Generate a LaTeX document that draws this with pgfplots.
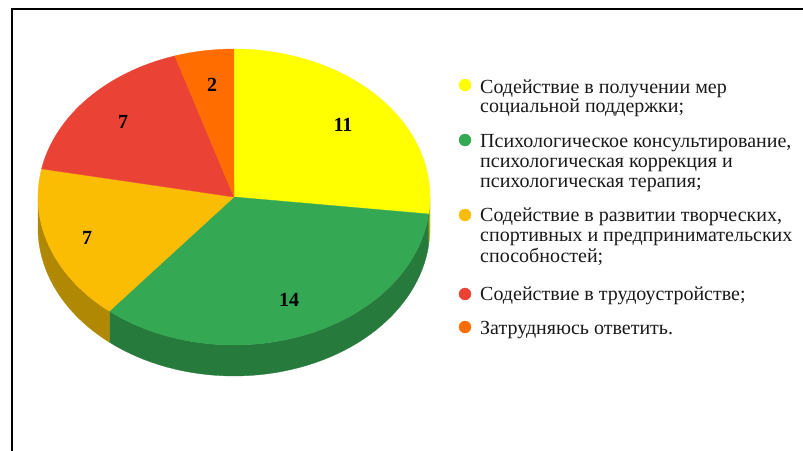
\documentclass[border=0pt]{standalone}
\usepackage{fontspec}
\setmainfont{Liberation Serif}
\usepackage{pgfplots}
\usepackage{pgfplotstable}
\pgfplotsset{compat=1.18}

\definecolor{cY}{HTML}{FFFF00}
\definecolor{cG}{HTML}{34A853}
\definecolor{cO}{HTML}{FBBC04}
\definecolor{cR}{HTML}{EA4335}
\definecolor{cOr}{HTML}{FF6D01}
\definecolor{sY}{HTML}{B3B300}
\definecolor{sG}{HTML}{267A3C}
\definecolor{sO}{HTML}{B08804}

\pgfplotstableread{
label value
A 11
B 14
C 7
D 7
E 2
}\piedata

\pgfplotstablegetelem{0}{value}\of\piedata \let\vA\pgfplotsretval
\pgfplotstablegetelem{1}{value}\of\piedata \let\vB\pgfplotsretval
\pgfplotstablegetelem{2}{value}\of\piedata \let\vC\pgfplotsretval
\pgfplotstablegetelem{3}{value}\of\piedata \let\vD\pgfplotsretval
\pgfplotstablegetelem{4}{value}\of\piedata \let\vE\pgfplotsretval
\pgfmathsetmacro{\tot}{\vA+\vB+\vC+\vD+\vE}
\pgfmathsetmacro{\aA}{90}
\pgfmathsetmacro{\aB}{\aA-\vA/\tot*360}
\pgfmathsetmacro{\aC}{\aB-\vB/\tot*360}
\pgfmathsetmacro{\aD}{\aC-\vC/\tot*360}
\pgfmathsetmacro{\aE}{\aD-\vD/\tot*360}
\pgfmathsetmacro{\aF}{\aE-\vE/\tot*360}

% pie geometry (pixels)
\def\cx{234}\def\cy{197}\def\rx{196}\def\ry{148}\def\dep{31}

\newcommand\topface[3]{%
  \addplot[fill=#3, draw=#3, line width=0.3pt, domain=#2:#1, samples=90]
    ({\cx+\rx*cos(x)},{\cy-\ry*sin(x)}) -- (axis cs:\cx,\cy) -- cycle;}
% side band: top arc #1 -> #2 (u in 0..100), bottom arc #2 -> #1 (u in 100..200)
\newcommand\sideface[3]{%
  \addplot[fill=#3, draw=#3, line width=0.3pt,
    samples at={0,2,...,100,100.01,102,104,...,200}]
    ({\cx+\rx*cos((x<=100) ? ((#1)+((#2)-(#1))*x/100) : ((#2)+((#1)-(#2))*(x-100)/100))},
     {\cy-\ry*sin((x<=100) ? ((#1)+((#2)-(#1))*x/100) : ((#2)+((#1)-(#2))*(x-100)/100)) + ((x<=100) ? 0 : \dep)}) -- cycle;}

\begin{document}
\begin{tikzpicture}
\path[use as bounding box] (0,0) rectangle (803pt,450pt);
\begin{axis}[
  at={(0,0)}, anchor=south west,
  scale only axis, width=803pt, height=450pt,
  xmin=0, xmax=803, ymin=0, ymax=450, y dir=reverse,
  hide axis, clip=true,
]
% frame
\addplot[black, line width=2pt] coordinates {(11.5,470) (11.5,8.5) (830,8.5)};

% side faces
\sideface{0}{\aB}{sY}
\sideface{\aB}{\aC}{sG}
\sideface{\aC}{-180}{sO}

% top faces
\topface{\aA}{\aB}{cY}
\topface{\aB}{\aC}{cG}
\topface{\aC}{\aD}{cO}
\topface{\aD}{\aE}{cR}
\topface{\aE}{\aF}{cOr}

% value labels
\node[font=\bfseries\fontsize{20}{20}\selectfont] at (axis cs:343,125) {11};
\node[font=\bfseries\fontsize{20}{20}\selectfont] at (axis cs:289,300) {14};
\node[font=\bfseries\fontsize{20}{20}\selectfont] at (axis cs:87,238) {7};
\node[font=\bfseries\fontsize{20}{20}\selectfont] at (axis cs:123,122) {7};
\node[font=\bfseries\fontsize{20}{20}\selectfont] at (axis cs:212,85) {2};

% legend markers
\addplot[only marks, mark=*, mark size=6pt, cY, mark options={draw=cY, fill=cY}] coordinates {(465,85)};
\addplot[only marks, mark=*, mark size=6pt, cG, mark options={draw=cG, fill=cG}] coordinates {(465,140)};
\addplot[only marks, mark=*, mark size=6pt, cO, mark options={draw=cO, fill=cO}] coordinates {(465,215)};
\addplot[only marks, mark=*, mark size=6pt, cR, mark options={draw=cR, fill=cR}] coordinates {(465,294)};
\addplot[only marks, mark=*, mark size=6pt, cOr, mark options={draw=cOr, fill=cOr}] coordinates {(465,327)};

% legend text
\begin{scope}[every node/.style={anchor=base west, inner sep=0pt, font=\fontsize{20}{24}\selectfont, text=black!90}]
\node at (axis cs:480,93) {Содействие в получении мер};
\node at (axis cs:480,112.5) {социальной поддержки;};
\node at (axis cs:480,147.5) {Психологическое консультирование,};
\node at (axis cs:480,167.5) {психологическая коррекция и};
\node at (axis cs:480,187.5) {психологическая терапия;};
\node at (axis cs:480,221) {Содействие в развитии творческих,};
\node at (axis cs:480,241.5) {спортивных и предпринимательских};
\node at (axis cs:480,262) {способностей;};
\node at (axis cs:480,300) {Содействие в трудоустройстве;};
\node at (axis cs:480,334) {Затрудняюсь ответить.};
\end{scope}
\end{axis}
\end{tikzpicture}
\end{document}
